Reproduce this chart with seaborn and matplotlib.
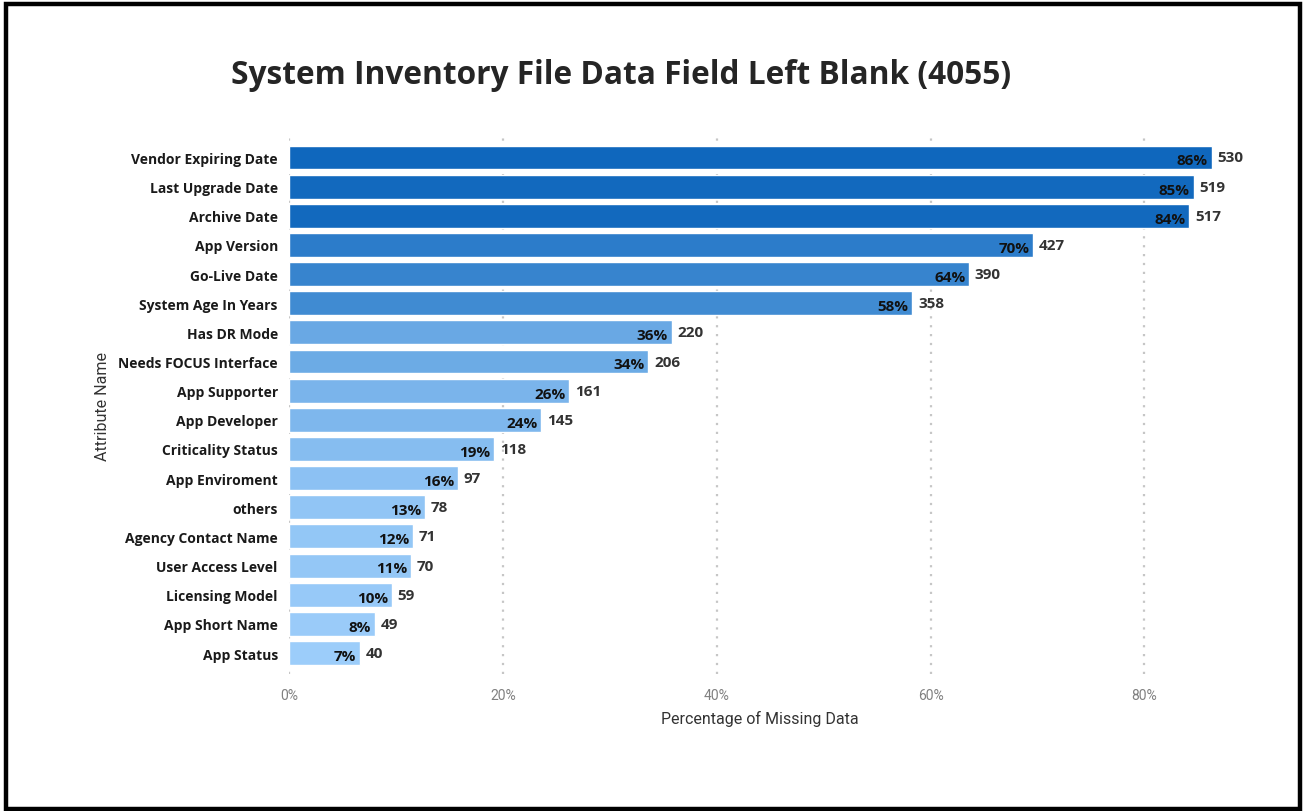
import matplotlib
matplotlib.use("Agg")
import matplotlib.pyplot as plt
from matplotlib.colors import LinearSegmentedColormap, Normalize
from matplotlib.patches import Rectangle
import seaborn as sns
import pandas as pd

# Data: share of systems with each field left blank, and the blank counts
attributes = [
    "Vendor Expiring Date", "Last Upgrade Date", "Archive Date", "App Version",
    "Go-Live Date", "System Age In Years", "Has DR Mode", "Needs FOCUS Interface",
    "App Supporter", "App Developer", "Criticality Status", "App Enviroment",
    "others", "Agency Contact Name", "User Access Level", "Licensing Model",
    "App Short Name", "App Status",
]
pct_missing = [86.3, 84.6, 84.2, 69.6, 63.6, 58.3, 35.8, 33.6, 26.2, 23.6,
               19.2, 15.8, 12.7, 11.6, 11.4, 9.6, 8.0, 6.6]
blank_counts = [530, 519, 517, 427, 390, 358, 220, 206, 161, 145,
                118, 97, 78, 71, 70, 59, 49, 40]
x_ticks = [0, 20, 40, 60, 80]

title = "System Inventory File Data Field Left Blank (4055)"

df = pd.DataFrame({"attr": attributes, "pct": pct_missing, "count": blank_counts})

# Colour each bar along a light-to-dark blue ramp by its value
cmap = LinearSegmentedColormap.from_list("blues", ["#9CCDFA", "#0F67BD"])
norm = Normalize(vmin=min(pct_missing), vmax=max(pct_missing))
palette = {a: cmap(norm(v)) for a, v in zip(attributes, pct_missing)}

sns.set_theme(style="white")
plt.rcParams["font.family"] = ["Open Sans", "DejaVu Sans"]

fig = plt.figure(figsize=(13.04, 8.12), dpi=100)
ax = fig.add_axes([0.2216, 0.1687, 0.7216, 0.662])

sns.barplot(data=df, x="pct", y="attr", hue="attr", palette=palette,
            order=attributes, hue_order=attributes, legend=False,
            width=0.82, saturation=1, ax=ax, orient="h")

ax.set_xlim(0, 88.0)
ax.set_ylim(len(attributes) - 0.28, -0.72)

# Dotted vertical gridlines
for t in x_ticks:
    ax.axvline(t, color="#c6c6c6", linestyle=(0, (1, 3)), linewidth=1.6, zorder=0)

ax.set_xticks(x_ticks)
ax.set_xticklabels([f"{t}%" for t in x_ticks], fontfamily="Roboto",
                   fontsize=10, color="#808080")
ax.tick_params(axis="x", length=0, pad=10)
ax.tick_params(axis="y", length=0, pad=8)
for lbl in ax.get_yticklabels():
    lbl.set_fontweight("bold")
    lbl.set_fontsize(10)
    lbl.set_color("#1a1a1a")

ax.set_xlabel("Percentage of Missing Data", fontfamily="Roboto", fontsize=11.5,
              color="#333333", labelpad=6)
ax.set_ylabel("Attribute Name", fontfamily="Roboto", fontsize=11.5,
              color="#333333", labelpad=6)

for s in ax.spines.values():
    s.set_visible(False)

# Value labels: percentage inside the bar end, count just outside
for i, (v, c) in enumerate(zip(pct_missing, blank_counts)):
    ax.text(v - 0.35, i + 0.1, f"{v:.0f}%", ha="right", va="center",
            fontsize=11, fontweight="bold", color="#111111")
    ax.text(v + 0.55, i, f"{c}", ha="left", va="center",
            fontsize=11, fontweight="bold", color="#333333")

fig.text(0.476, 0.907, title, ha="center", va="center", fontsize=22.8,
         fontweight="bold", color="#252525")

# Black frame around the whole figure
fig.patches.append(Rectangle((0.0045, 0.003), 0.9925, 0.991, transform=fig.transFigure,
                             fill=False, edgecolor="black", linewidth=3.2))

fig.savefig("out.png", dpi=100, facecolor="white")
